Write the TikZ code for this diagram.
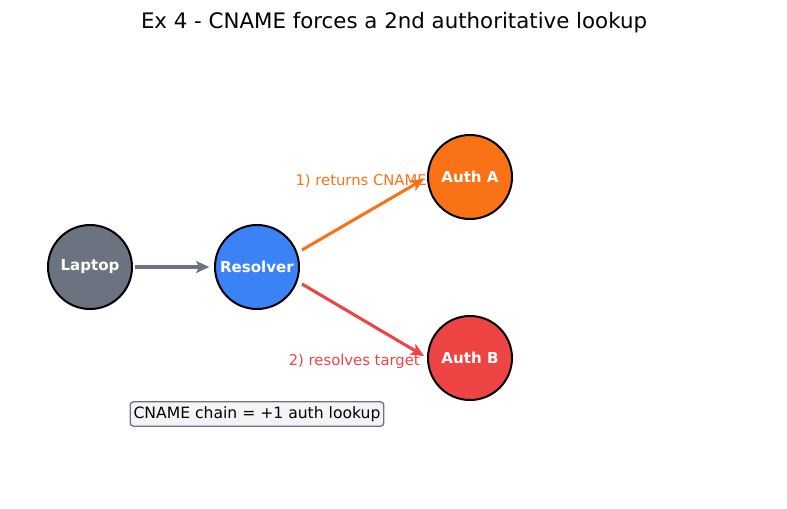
\documentclass[tikz,border=0pt]{standalone}
\usepackage{fontspec}
\setmainfont{DejaVu Sans}
\usetikzlibrary{arrows.meta,positioning}
\definecolor{dnsgray}{HTML}{6B7280}
\definecolor{dnsblue}{HTML}{3B82F6}
\definecolor{dnsorange}{HTML}{F97316}
\definecolor{dnsred}{HTML}{EF4444}
\definecolor{dnsbox}{HTML}{F3F4F6}

\begin{document}
\begin{tikzpicture}[x=0.75pt, y=-0.75pt,
  hostnode/.style={circle, draw=black, line width=1.5pt, minimum size=63pt,
    inner sep=0pt, text=white, font=\fontsize{11.3}{13}\selectfont\bfseries},
  arr/.style={-{Stealth[length=10pt, width=9pt, inset=2.5pt]}, line width=2.3pt},
  steplabel/.style={font=\fontsize{11.1}{13}\selectfont, inner sep=0pt}]
\useasboundingbox (0,0) rectangle (787,508);
% Title
\node[font=\fontsize{16}{19}\selectfont] (title) at (394,23) {Ex 4 - CNAME forces a 2nd authoritative lookup};
% Hosts
\node[hostnode, fill=dnsgray]   (laptop)   at (90,267)  {Laptop};
\node[hostnode, fill=dnsblue]   (resolver) at (257,267) {Resolver};
\node[hostnode, fill=dnsorange] (autha)    at (470,177) {Auth A};
\node[hostnode, fill=dnsred]    (authb)    at (470,358) {Auth B};
% Step labels
\node[steplabel, text=dnsorange, anchor=east] (lbla) at ([shift={(0,4)}]autha.west) {1) returns CNAME};
\node[steplabel, text=dnsred, anchor=east] (lblb) at ([shift={(-7,3)}]authb.west) {2) resolves target};
% Arrows
\draw[arr, dnsgray, shorten <=1.5pt, shorten >=3.5pt] (laptop.east) -- (resolver.west);
\draw[arr, dnsorange] ([shift={(2,-17)}]resolver.east) -- ([shift={(-3,2)}]autha.west);
\draw[arr, dnsred] ([shift={(2,17)}]resolver.east) -- ([shift={(-3,-2)}]authb.west);
% Note
\node[draw=dnsgray, fill=dnsbox, rounded corners=2.5pt, line width=1pt,
  inner xsep=2.5pt, inner ysep=3.5pt, font=\fontsize{11.7}{13}\selectfont] (note) at (257,414) {CNAME chain = +1 auth lookup};
\end{tikzpicture}
\end{document}
